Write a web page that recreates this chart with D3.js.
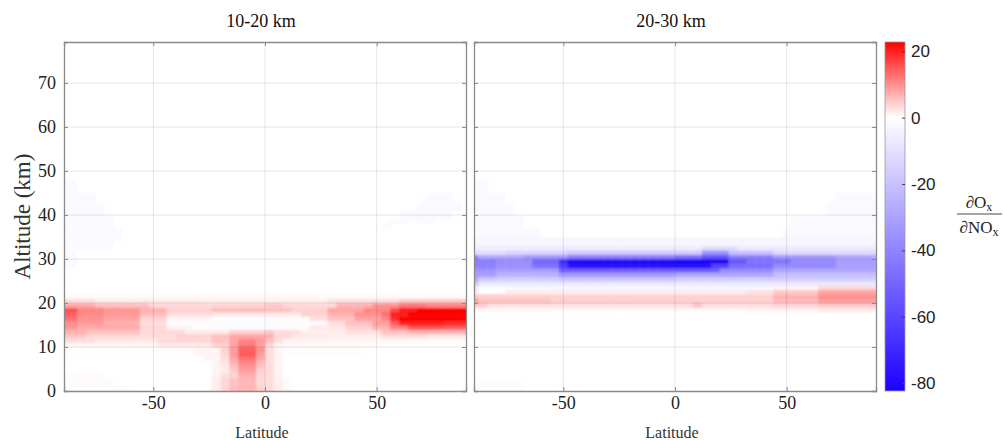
<!DOCTYPE html>
<html><head><meta charset="utf-8">
<script src="https://cdn.jsdelivr.net/npm/d3@7"></script>
<style>body{margin:0;background:#fff} svg{display:block}</style>
</head><body><svg id="chart" width="1003" height="440"></svg>
<script>
// ---- data ----
const lats = [-90,-86,-82,-78,-74,-70,-66,-62,-58,-54,-50,-46,-42,-38,-34,-30,-26,-22,-18,-14,-10,-6,-2,
              2,6,10,14,18,22,26,30,34,38,42,46,50,54,58,62,66,70,74,78,82,86,90];
const xTicks = [-50, 0, 50];
const yTicks = [0, 10, 20, 30, 40, 50, 60, 70];
const cbTicks = [20, 0, -20, -40, -60, -80];
const titles = ["10-20 km", "20-30 km"];
// rows: [altFrom, altTo, [[latFrom, latTo, value], ...]]  (1 km cells, unlisted = 0)
const panel1Rows = [
  [0,0,[[-90,-62,0.4],[-22,-22,1.5],[-18,-18,3.5],[-14,-14,6],[-10,-6,6.5],[-2,-2,4],[2,2,3],[6,6,1.5],[10,10,0.6]]],
  [1,2,[[-90,-70,0.4],[-22,-22,1.5],[-18,-18,3.5],[-14,-14,5.5],[-10,-6,6.5],[-2,-2,3.5],[2,2,3],[6,6,1.5],[10,10,0.5]]],
  [3,3,[[-90,-74,0.3],[-22,-22,1.2],[-18,-18,3],[-14,-14,4],[-10,-6,7],[-2,-2,3.5],[2,2,3],[6,6,1.2]]],
  [4,4,[[-22,-22,1],[-18,-18,2],[-14,-14,4.5],[-10,-6,8.5],[-2,-2,4],[2,2,3],[6,6,1]]],
  [5,5,[[-22,-22,1],[-18,-18,2],[-14,-14,5.5],[-10,-6,9.5],[-2,-2,5],[2,2,3],[6,6,1]]],
  [6,6,[[-22,-22,1],[-18,-18,2.5],[-14,-14,7],[-10,-6,11],[-2,-2,6],[2,2,3],[6,6,1]]],
  [7,7,[[-26,-22,1],[-18,-18,3],[-14,-14,8],[-10,-6,13],[-2,-2,8],[2,2,3],[6,6,1]]],
  [8,8,[[-90,-34,0.2],[-30,-22,1],[-18,-18,3.5],[-14,-14,9],[-10,-6,15],[-2,-2,9],[2,2,3],[6,6,1],[10,42,0.3]]],
  [9,9,[[-90,-34,0.3],[-30,-22,1],[-18,-18,4],[-14,-14,9],[-10,-6,14.5],[-2,-2,10],[2,2,3],[6,6,1],[10,42,0.3]]],
  [10,10,[[-90,-50,0.8],[-46,-26,2],[-22,-18,4],[-14,-14,8.5],[-10,-6,12],[-2,-2,8.5],[2,2,3.5],[6,6,1],[10,46,0.5],[50,90,0.2]]],
  [11,11,[[-90,-78,3],[-74,-50,2],[-46,-26,3.5],[-22,-18,5.5],[-14,-14,8],[-10,-6,11],[-2,-2,9],[2,2,5.5],[6,6,3],[10,30,1],[34,62,0.7],[66,90,0.4]]],
  [12,12,[[-90,-82,5],[-78,-58,3.5],[-54,-42,3],[-38,-26,4],[-22,-18,5.5],[-14,-2,8],[2,2,7],[6,10,3.5],[14,26,2],[30,50,1.5],[54,70,3],[74,90,2]]],
  [13,13,[[-90,-82,7],[-78,-58,5.5],[-54,-38,3.5],[-34,-18,2],[-14,-2,4],[2,2,5],[6,14,3],[18,34,1.5],[38,50,3],[54,62,5.5],[66,90,7]]],
  [14,14,[[-90,-86,9.5],[-82,-58,7.8],[-54,-46,3.5],[-42,-34,1],[-30,18,-0.8],[22,34,2],[38,46,4],[50,54,7],[58,62,11],[66,78,15.5],[82,90,14.5]]],
  [15,15,[[-90,-86,10],[-82,-74,9],[-70,-58,7],[-54,-46,3],[-42,26,-1],[30,34,3],[38,46,5.5],[50,54,8.5],[58,58,14.5],[62,78,20],[82,90,19]]],
  [16,16,[[-90,-86,13],[-82,-74,10],[-70,-58,8.5],[-54,-46,4],[-42,-26,1],[-22,-2,-0.5],[2,18,0.5],[22,26,3],[30,38,5.5],[42,50,8.5],[54,54,11],[58,58,19],[62,90,24]]],
  [17,17,[[-90,-86,14.5],[-82,-74,10.5],[-70,-58,9],[-54,-46,6],[-42,-26,3],[-22,14,2],[18,26,4],[30,38,7],[42,50,10],[54,54,13],[58,62,20],[66,90,24]]],
  [18,18,[[-90,-86,15.5],[-82,-74,11],[-70,-58,9.5],[-54,-46,7],[-42,-26,4],[-22,-2,6],[2,10,5.5],[14,26,4],[30,42,8],[46,54,11],[58,58,16],[62,66,20],[70,90,23]]],
  [19,19,[[-90,-78,8],[-74,-54,6],[-50,-26,3.5],[-22,-2,4],[2,6,5],[10,30,3.5],[34,46,7],[50,58,10],[62,70,12.5],[74,90,11]]],
  [20,20,[[-90,-78,3],[-74,-30,2],[-26,26,1.5],[30,58,3],[62,90,5]]],
  [21,21,[[-90,90,0.5]]],
  [28,31,[[-90,-86,-1.8]]],
  [32,33,[[-90,-70,-1.8]]],
  [34,36,[[-90,-66,-1.8]]],
  [37,37,[[-90,-70,-1.8],[54,54,-1.8]]],
  [38,38,[[-90,-70,-1.8],[58,62,-1.8],[70,74,-1.8]]],
  [39,39,[[-90,-70,-1.8],[62,82,-1.8]]],
  [40,40,[[-90,-74,-1.8],[62,82,-1.8]]],
  [41,42,[[-90,-74,-1.8],[70,86,-1.8]]],
  [43,44,[[-90,-78,-1.8],[74,82,-1.8]]],
  [45,47,[[-90,-86,-1.8]]]
];
const panel2Rows = [
  [0,1,[[-90,-70,0.4]]],
  [2,2,[[-90,-78,0.3]]],
  [18,18,[[-90,30,0.6],[34,62,1.2],[66,90,2]]],
  [19,19,[[-90,-86,4.5],[-82,-2,2.6],[2,6,3],[10,10,5.5],[14,42,3],[46,62,3.8],[66,90,4.8]]],
  [20,20,[[-90,-90,8.5],[-86,-58,5.5],[-54,42,4.3],[46,62,6.2],[66,90,8.8]]],
  [21,21,[[-90,-90,5.5],[-86,-58,4.5],[-54,42,4],[46,62,7],[66,90,9.8]]],
  [22,22,[[-90,-90,2],[-86,-78,0],[-74,30,1.8],[34,42,2.8],[46,62,5],[66,90,8.3]]],
  [23,23,[[-90,-90,-8],[-86,-78,-1],[-74,42,-2.5],[46,62,1.2],[66,90,3.8]]],
  [24,24,[[-90,-90,-18],[-86,90,-7.5]]],
  [25,25,[[-90,-90,-28],[-86,-82,-18],[-78,-54,-16],[-50,-2,-19],[2,90,-16]]],
  [26,26,[[-90,-82,-32],[-78,-54,-25],[-50,-2,-33],[2,42,-29],[46,90,-21]]],
  [27,27,[[-90,-82,-35],[-78,-54,-32],[-50,18,-52],[22,42,-38],[46,90,-29]]],
  [28,28,[[-90,-82,-41],[-78,-66,-36],[-62,-54,-46],[-50,-50,-62],[-46,14,-80],[18,22,-62],[26,42,-48],[46,70,-38],[74,90,-31]]],
  [29,29,[[-90,-82,-43],[-78,-66,-38],[-62,-54,-50],[-50,-50,-70],[-46,22,-82],[26,30,-56],[34,50,-46],[54,70,-38],[74,90,-32]]],
  [30,30,[[-90,-90,-38],[-86,-70,-28],[-66,-50,-33],[-46,-2,-41],[2,10,-46],[14,22,-55],[26,42,-41],[46,70,-33],[74,90,-28]]],
  [31,31,[[-90,-78,-11],[-74,-50,-14],[-46,-2,-17],[2,10,-17],[14,22,-36],[26,42,-20],[46,90,-12]]],
  [32,32,[[-90,10,-6],[14,26,-12],[30,90,-7]]],
  [33,34,[[-90,90,-3]]],
  [35,36,[[-90,-62,-1.8],[50,90,-1.8]]],
  [37,39,[[-90,-70,-1.8],[54,90,-1.8]]],
  [40,42,[[-90,-74,-1.8],[70,90,-1.8]]],
  [43,44,[[-90,-78,-1.8],[74,90,-1.8]]],
  [45,47,[[-90,-86,-1.8]]]
];

// ---- build ----
function cells(rows) {
  const grid = new Map();
  rows.forEach(([a0, a1, segs]) => {
    for (let a = a0; a <= a1; a++) {
      segs.forEach(([l0, l1, v]) => {
        lats.forEach(lat => { if (lat >= l0 && lat <= l1) grid.set(a + "|" + lat, {alt: a, lat: lat, v: v}); });
      });
    }
  });
  return Array.from(grid.values()).filter(d => d.v !== 0);
}

const svg = d3.select("#chart");
const serif = "'Liberation Serif','Times New Roman',serif";
const sans = "'Liberation Sans',Arial,sans-serif";
const color = d3.scaleLinear().domain([-82.4, 0, 22.8]).range(["#1c00ff", "#ffffff", "#ff0000"]).clamp(true);
const y = d3.scaleLinear().domain([0, 79.3]).range([391, 42]);
const panels = [
  {x0: 64, x1: 466, rows: panel1Rows, title: titles[0], ylab: true},
  {x0: 474, x1: 876, rows: panel2Rows, title: titles[1], ylab: false}
];
const axisColor = "#8a8a8a";
const fmt = d => String(d);

const defs = svg.append("defs");
defs.append("filter").attr("id", "soft").attr("x", "-5%").attr("y", "-5%").attr("width", "110%").attr("height", "110%")
  .append("feGaussianBlur").attr("stdDeviation", 0.9);

panels.forEach(p => {
  const x = d3.scaleLinear().domain([-90, 90]).range([p.x0, p.x1]);
  const g = svg.append("g");
  const clipId = "clip" + p.x0;
  defs.append("clipPath").attr("id", clipId).append("rect")
    .attr("x", p.x0).attr("y", y(79.3)).attr("width", p.x1 - p.x0).attr("height", y(0) - y(79.3));
  g.append("g").attr("clip-path", `url(#${clipId})`)
    .append("g").attr("filter", "url(#soft)")
    .selectAll("rect").data(cells(p.rows)).join("rect")
    .attr("x", d => x(Math.max(-90, d.lat - 2)) - (d.lat === -90 ? 3 : 0))
    .attr("width", d => x(Math.min(90, d.lat + 2)) - x(Math.max(-90, d.lat - 2)) + 0.4 + (d.lat === -90 || d.lat === 90 ? 3 : 0))
    .attr("y", d => y(d.alt + 1))
    .attr("height", d => y(d.alt) - y(d.alt + 1) + 0.4 + (d.alt === 0 ? 3 : 0))
    .attr("fill", d => color(d.v));
  // grid
  g.append("g").selectAll("line").data(xTicks).join("line")
    .attr("x1", d => x(d)).attr("x2", d => x(d)).attr("y1", y(0)).attr("y2", y(79.3))
    .attr("stroke", "#262626").attr("stroke-opacity", 0.13).attr("stroke-width", 0.9);
  g.append("g").selectAll("line").data(yTicks.filter(t => t > 0)).join("line")
    .attr("y1", d => y(d)).attr("y2", d => y(d)).attr("x1", p.x0).attr("x2", p.x1)
    .attr("stroke", "#262626").attr("stroke-opacity", 0.13).attr("stroke-width", 0.9);
  // axes
  const ax = g.append("g").attr("transform", `translate(0,${y(0)})`)
    .call(d3.axisBottom(x).tickValues(xTicks).tickSize(-4).tickPadding(14).tickFormat(fmt));
  const axT = g.append("g").attr("transform", `translate(0,${y(79.3)})`)
    .call(d3.axisTop(x).tickValues(xTicks).tickSize(-4).tickFormat(""));
  const ay = g.append("g").attr("transform", `translate(${p.x0},0)`)
    .call(d3.axisLeft(y).tickValues(yTicks).tickSize(-4).tickPadding(8).tickFormat(p.ylab ? fmt : ""));
  const ayR = g.append("g").attr("transform", `translate(${p.x1},0)`)
    .call(d3.axisRight(y).tickValues(yTicks).tickSize(-4).tickFormat(""));
  [ax, axT, ay, ayR].forEach(a => {
    a.select(".domain").attr("stroke", axisColor).attr("stroke-width", 1.3);
    a.selectAll(".tick line").attr("stroke", axisColor).attr("stroke-width", 1);
    a.selectAll("text").attr("font-family", serif).attr("font-size", 18).attr("fill", "#222");
  });
  ax.selectAll("text").attr("dy", "0.2em");
  g.append("text").attr("x", (p.x0 + p.x1) / 2 - 4).attr("y", 27).attr("text-anchor", "middle")
    .attr("font-family", serif).attr("font-size", 18).attr("fill", "#111").text(p.title);
  g.append("text").attr("x", (p.x0 + p.x1) / 2 - 3).attr("y", 438).attr("text-anchor", "middle")
    .attr("font-family", serif).attr("font-size", 16).attr("fill", "#333").text("Latitude");
  if (p.ylab) {
    g.append("text").attr("transform", `translate(30,${(y(0) + y(79.3)) / 2}) rotate(-90)`)
      .attr("text-anchor", "middle").attr("font-family", serif).attr("font-size", 23).attr("fill", "#333")
      .text("Altitude (km)");
  }
});

// ---- colorbar ----
const cbX0 = 885, cbW = 20;
const cbY = d3.scaleLinear().domain([-82.4, 22.8]).range([391, 42]);
const grad = defs.append("linearGradient").attr("id", "cbgrad").attr("x1", 0).attr("x2", 0).attr("y1", 1).attr("y2", 0);
const stopVals = d3.sort(d3.range(0, 1.0001, 0.02).map(t => -82.4 + t * 105.2).concat([0]));
stopVals.forEach(v => {
  grad.append("stop").attr("offset", (v + 82.4) / 105.2).attr("stop-color", color(v));
});
svg.append("rect").attr("x", cbX0).attr("y", cbY(22.8)).attr("width", cbW).attr("height", cbY(-82.4) - cbY(22.8))
  .attr("fill", "url(#cbgrad)").attr("stroke", "#999").attr("stroke-width", 0.8);
const cbAxis = svg.append("g").attr("transform", `translate(${cbX0 + cbW},0)`)
  .call(d3.axisRight(cbY).tickValues(cbTicks).tickSize(-3).tickPadding(6).tickFormat(fmt));
cbAxis.select(".domain").remove();
cbAxis.selectAll(".tick line").attr("stroke", "#444");
cbAxis.selectAll("text").attr("font-family", sans).attr("font-size", 17).attr("fill", "#222");

// colorbar label: fraction
const fx = 979;
const num = svg.append("text").attr("x", fx).attr("y", 208).attr("text-anchor", "middle")
  .attr("font-family", serif).attr("font-size", 17).attr("fill", "#222");
num.append("tspan").text("\u2202O");
num.append("tspan").attr("font-size", 12).attr("dy", 3).text("x");
svg.append("line").attr("x1", 957).attr("x2", 1002).attr("y1", 214).attr("y2", 214).attr("stroke", "#333").attr("stroke-width", 0.9);
const den = svg.append("text").attr("x", fx).attr("y", 233).attr("text-anchor", "middle")
  .attr("font-family", serif).attr("font-size", 17).attr("fill", "#222");
den.append("tspan").text("\u2202NO");
den.append("tspan").attr("font-size", 12).attr("dy", 3).text("x");
</script></body></html>
